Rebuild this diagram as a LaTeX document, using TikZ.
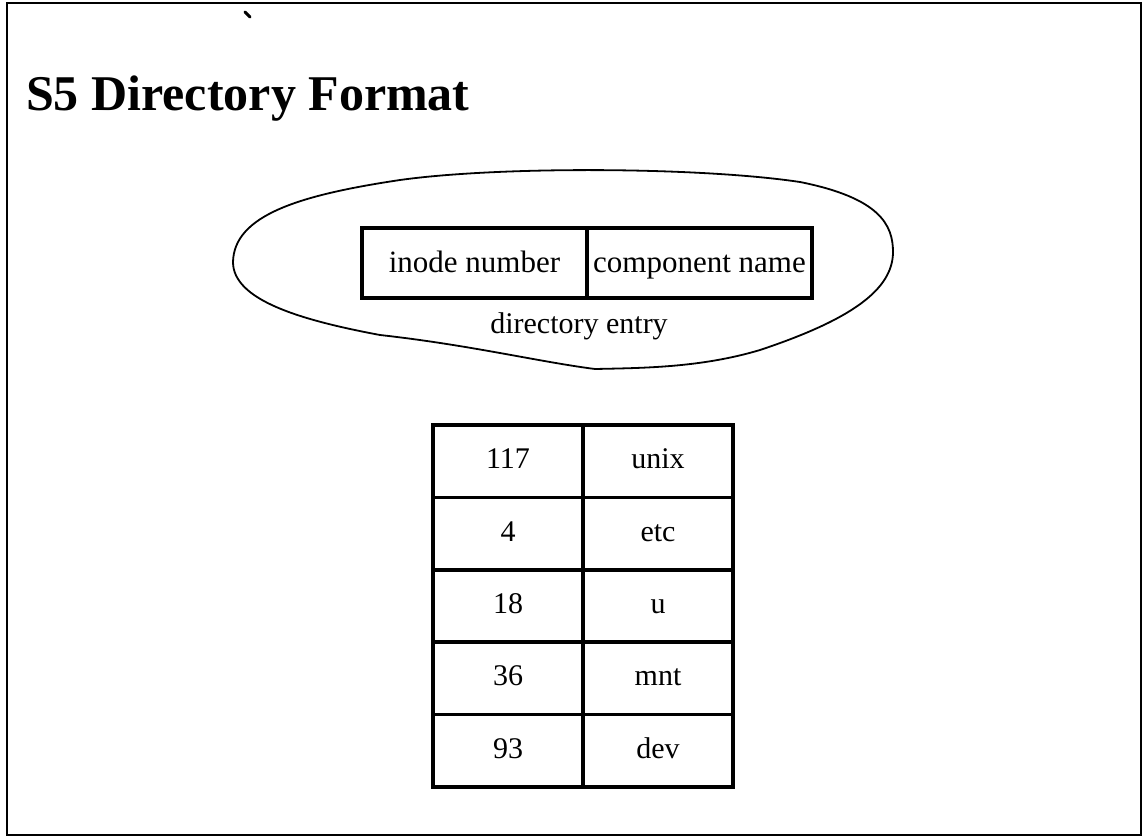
\documentclass[tikz,border=0pt]{standalone}
\usepackage{fontspec}
\setmainfont{Liberation Serif}
\usepackage{tikz}

\begin{document}
\begin{tikzpicture}[x=1pt, y=-1pt,
  every node/.style={font=\fontsize{30}{36}\selectfont},
  celda/.style={draw, line width=3.5pt, inner sep=0pt, minimum width=150pt, minimum height=72.4pt,
    text height=20pt, text depth=5pt},
  campo/.style={draw, line width=3.5pt, inner sep=0pt, minimum width=225pt, minimum height=70pt,
    text height=20pt, text depth=2pt, font=\fontsize{31}{37}\selectfont}]
  \useasboundingbox (0,0) rectangle (1144,838);

  % Marco
  \draw[line width=2.5pt] (7,3) rectangle (1141,835);
  \draw[line width=3pt, line cap=round] (245,12) -- (250,17); % marca

  % Titulo
  \node[anchor=base west, inner sep=0pt, font=\fontsize{50}{60}\selectfont\bfseries] (titulo) at (26,110) {S5 Directory Format};

  % Entrada de directorio
  \draw[line width=1.8pt] (233,262) .. controls (234,215) and (300,195) .. (400,180)
    .. controls (500,166) and (700,167) .. (800,182)
    .. controls (880,198) and (893,225) .. (893,252)
    .. controls (893,290) and (850,320) .. (760,350)
    .. controls (700,368) and (640,368) .. (595,369)
    .. controls (540,362) and (470,345) .. (380,335)
    .. controls (300,320) and (233,300) .. (233,262) -- cycle;
  \node[campo] (inodo) at (474.5,263) {inode number};
  \node[campo] (nombre) at (699.5,263) {component name};
  \node[anchor=base] (entrada) at (579,333) {directory entry};

  % Tabla
  \node[celda] (n1) at (508,461.2) {117};   % fila 1
  \node[celda] (c1) at (658,461.2) {unix};
  \node[celda] (n2) at (508,533.6) {4};     % fila 2
  \node[celda] (c2) at (658,533.6) {etc};
  \node[celda] (n3) at (508,606.0) {18};    % fila 3
  \node[celda] (c3) at (658,606.0) {u};
  \node[celda] (n4) at (508,678.4) {36};    % fila 4
  \node[celda] (c4) at (658,678.4) {mnt};
  \node[celda] (n5) at (508,750.8) {93};    % fila 5
  \node[celda] (c5) at (658,750.8) {dev};
\end{tikzpicture}
\end{document}
